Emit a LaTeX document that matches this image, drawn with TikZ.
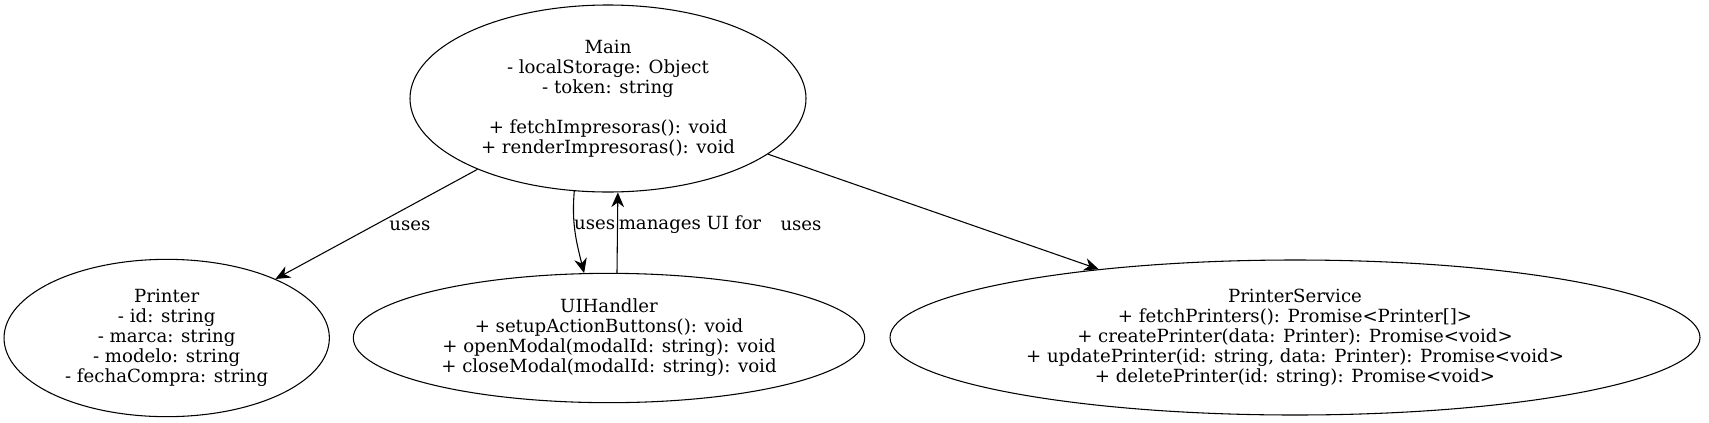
\documentclass[tikz,border=0pt]{standalone}
\usepackage{fontspec}
\setmainfont{DejaVu Serif}
\usetikzlibrary{shapes.geometric,arrows.meta}
\tikzset{
  cls/.style={draw, ellipse, line width=0.8pt, inner sep=0pt, align=center, font=\fontsize{13.6}{15}\selectfont},
  lbl/.style={inner sep=0pt, font=\fontsize{13.6}{15}\selectfont},
  arr/.style={line width=0.8pt, -{Stealth[length=11pt, width=9.5pt, inset=3.5pt]}}
}
\begin{document}
\begin{tikzpicture}[x=0.75pt, y=-0.75pt]
\useasboundingbox (0,0) rectangle (1709,422);
\node[cls, minimum width=297pt, minimum height=140.25pt] (main) at (608,98.5)
  {Main\\- localStorage: Object\\- token: string\\ {} \\+ fetchImpresoras(): void\\+ renderImpresoras(): void};
\node[cls, minimum width=244pt, minimum height=118pt] (printer) at (166.7,338)
  {Printer\\- id: string\\- marca: string\\- modelo: string\\- fechaCompra: string};
\node[cls, minimum width=383.5pt, minimum height=97pt] (ui) at (609,338)
  {UIHandler\\+ setupActionButtons(): void\\+ openModal(modalId: string): void\\+ closeModal(modalId: string): void};
\node[cls, minimum width=607.5pt, minimum height=116.25pt] (svc) at (1295,337.5)
  {PrinterService\\+ fetchPrinters(): Promise<Printer[]>\\+ createPrinter(data: Printer): Promise<void>\\+ updatePrinter(id: string, data: Printer): Promise<void>\\+ deletePrinter(id: string): Promise<void>};
\draw[arr] (main) -- (printer);
\draw[arr] (main) -- (svc);
\draw[arr] (main.250) to[out=265, in=104] (ui.111.2);
\draw[arr] (ui.83.7) -- (main.276.3);
\node[lbl] (l1) at (410,226) {uses};
\node[lbl, anchor=east] (l2) at (615.5,225) {uses};
\node[lbl, anchor=west] (l3) at (618.5,225) {manages UI for};
\node[lbl] (l4) at (801,226) {uses};
\end{tikzpicture}
\end{document}
